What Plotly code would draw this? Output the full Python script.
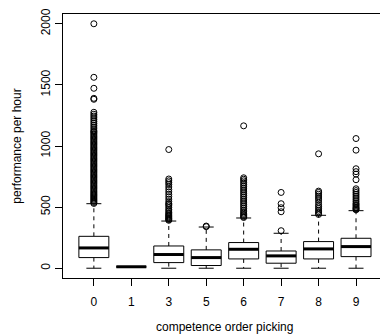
import plotly.graph_objects as go

# ---- data ----
categories = ["0", "1", "3", "5", "6", "7", "8", "9"]
lower_whisker = [0, 11, 0, 0, 0, 0, 0, 0]
q1 = [87, 11, 46, 22, 76, 41, 76, 95]
median = [166, 12, 112, 87, 155, 101, 158, 177]
q3 = [261, 13, 182, 150, 210, 141, 218, 245]
upper_whisker = [528, 13, 386, 337, 411, 286, 433, 471]

outliers_0 = [530, 538, 547, 556, 565, 574, 583, 592, 601, 610, 620, 630, 640, 650,
              660, 670, 680, 690, 700, 710, 720, 730, 740, 750, 760, 770, 780, 790,
              800, 810, 820, 830, 840, 850, 860, 870, 880, 890, 900, 910, 920, 930,
              940, 950, 960, 970, 980, 990, 1000, 1010, 1020, 1030, 1040, 1050, 1060,
              1070, 1080, 1090, 1100, 1110, 1118, 1125, 1140, 1155, 1170, 1185, 1200,
              1215, 1230, 1245, 1260, 1276, 1382, 1390, 1472, 1562, 2000]
outliers_1 = []
outliers_3 = [392, 398, 405, 412, 420, 428, 436, 445, 455, 468, 480, 495, 510, 522,
              530, 545, 565, 585, 605, 625, 645, 665, 685, 700, 715, 730, 971]
outliers_5 = [340, 345]
outliers_6 = [415, 422, 430, 440, 450, 462, 475, 490, 505, 520, 535, 550, 565, 580,
              595, 610, 625, 640, 655, 670, 685, 700, 715, 728, 740, 1165]
outliers_7 = [307, 462, 495, 528, 620]
outliers_8 = [440, 450, 462, 475, 490, 505, 520, 540, 560, 575, 590, 605, 620, 631, 936]
outliers_9 = [478, 485, 492, 500, 510, 520, 530, 545, 560, 575, 590, 605, 620, 635,
              650, 724, 770, 790, 814, 966, 1061]
outliers = [outliers_0, outliers_1, outliers_3, outliers_5,
            outliers_6, outliers_7, outliers_8, outliers_9]
y_ticks = [0, 500, 1000, 1500, 2000]

# ---- build R-style boxplot with scatter traces ----
HW = 0.4   # half box width
CW = 0.2   # half cap width
bx, by, mx, my, wx, wy, cx, cy, ox, oy = [], [], [], [], [], [], [], [], [], []
for i, cat in enumerate(categories):
    p = i + 1
    bx += [p - HW, p + HW, p + HW, p - HW, p - HW, None]
    by += [q1[i], q1[i], q3[i], q3[i], q1[i], None]
    mx += [p - HW, p + HW, None]
    my += [median[i], median[i], None]
    wx += [p, p, None, p, p, None]
    wy += [q3[i], upper_whisker[i], None, q1[i], lower_whisker[i], None]
    cx += [p - CW, p + CW, None, p - CW, p + CW, None]
    cy += [upper_whisker[i], upper_whisker[i], None, lower_whisker[i], lower_whisker[i], None]
    for v in outliers[i]:
        ox.append(p)
        oy.append(v)

fig = go.Figure()
fig.add_trace(go.Scatter(x=wx, y=wy, mode="lines", line=dict(color="black", width=1, dash="4px,4px"),
                         hoverinfo="skip"))
fig.add_trace(go.Scatter(x=cx, y=cy, mode="lines", line=dict(color="black", width=1), hoverinfo="skip"))
fig.add_trace(go.Scatter(x=bx, y=by, mode="lines", fill="toself", fillcolor="white",
                         line=dict(color="black", width=1), hoverinfo="skip"))
fig.add_trace(go.Scatter(x=mx, y=my, mode="lines", line=dict(color="black", width=3), hoverinfo="skip"))
fig.add_trace(go.Scatter(x=ox, y=oy, mode="markers",
                         marker=dict(symbol="circle-open", size=6, color="black", line=dict(width=1)),
                         hoverinfo="skip"))

FONT = "Liberation Sans, Arial, Helvetica, sans-serif"
fig.update_layout(
    width=380, height=334,
    margin=dict(l=63, r=0, t=14, b=56),
    paper_bgcolor="white", plot_bgcolor="white",
    showlegend=False,
    font=dict(family=FONT, size=12, color="black"),
    xaxis=dict(range=[0.176, 8.64], tickvals=list(range(1, len(categories) + 1)),
               ticktext=categories, ticks="outside", ticklen=7, tickcolor="black",
               ticklabelstandoff=6,
               showline=True, mirror=True, linecolor="black", linewidth=1,
               showgrid=False, zeroline=False, tickfont=dict(size=12)),
    yaxis=dict(range=[-80, 2080], tickvals=y_ticks, ticktext=[str(t) for t in y_ticks],
               tickangle=-90, ticks="outside", ticklen=7, tickcolor="black",
               showline=True, mirror=False, linecolor="black", linewidth=1,
               showgrid=False, zeroline=False, tickfont=dict(size=12),
               title=dict(text="performance per hour", font=dict(size=12), standoff=15)),
)
fig.add_annotation(text="competence order picking", x=4.5, xref="x", y=-0.186, yref="paper",
                   showarrow=False, font=dict(size=12), yanchor="middle")

fig.write_html("out.html")
